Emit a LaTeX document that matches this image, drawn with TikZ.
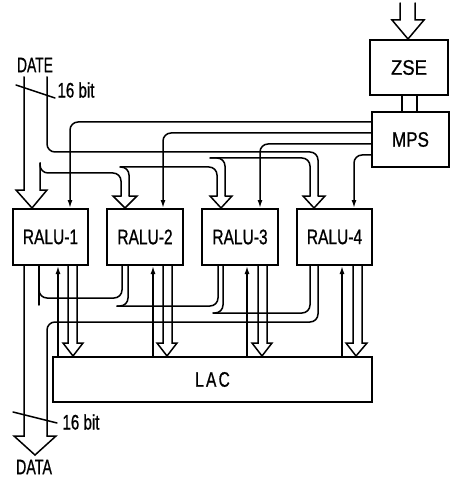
\documentclass[tikz,border=0pt]{standalone}
\usepackage{graphicx}
\usepackage{fontspec}
\setmainfont[FakeBold=1]{Liberation Sans}
\usetikzlibrary{arrows.meta}
\newcommand\hsq[2]{\scalebox{#1}[1]{#2}}
\tikzset{
  box/.style={draw, line width=2pt, inner sep=0pt, font=\fontsize{21}{21}\selectfont},
  lbl/.style={inner sep=0pt, font=\fontsize{21}{21}\selectfont},
  wire/.style={line width=1.5pt, line cap=round},
  rc/.style={rounded corners=8pt},
  tip/.style={-{Latex[length=8pt,width=5pt]}},
}
\begin{document}
\begin{tikzpicture}[x=1pt,y=-1pt]
\useasboundingbox (0,0) rectangle (453,478);
% boxes
\node[box, minimum width=78pt, minimum height=55pt] (zse) at (409,67.5) {\hsq{0.88}{ZSE}};
\node[box, minimum width=77pt, minimum height=55pt] (mps) at (410.5,139.5) {\hsq{0.81}{MPS}};
\node[box, minimum width=75pt, minimum height=56pt] (r1) at (50.5,237) {\hsq{0.74}{RALU-1}};
\node[box, minimum width=76pt, minimum height=56pt] (r2) at (145,237) {\hsq{0.74}{RALU-2}};
\node[box, minimum width=76pt, minimum height=56pt] (r3) at (240,237) {\hsq{0.74}{RALU-3}};
\node[box, minimum width=75pt, minimum height=56pt] (r4) at (334.5,237) {\hsq{0.74}{RALU-4}};
\node[box, minimum width=319pt, minimum height=45pt] (lac) at (212.5,379.5) {\hsq{0.74}{L\kern3pt A\kern3pt C}};
% labels
\node[lbl] (date) at (35,65) {\hsq{0.66}{DATE}};
\node[lbl] (bit1) at (76,90) {\hsq{0.72}{16 bit}};
\node[lbl] (bit2) at (81,422) {\hsq{0.72}{16 bit}};
\node[lbl] (data) at (34,467) {\hsq{0.68}{DATA}};
% ZSE input and ZSE-MPS link
\draw[wire] (400,3) -- (400,20) -- (392,20) -- (408,0 |- zse.north) -- (424,20) -- (415,20) -- (415,3);
\draw[wire] (402,0 |- zse.south) -- (402,0 |- mps.north);
\draw[wire] (417,0 |- zse.south) -- (417,0 |- mps.north);
% control lines MPS -> RALU
\draw[wire,rc,tip] (mps.west |- 0,122) -- (70,122) -- (70,0 |- r1.north);
\draw[wire,rc,tip] (mps.west |- 0,133) -- (163,133) -- (163,0 |- r2.north);
\draw[wire,rc,tip] (mps.west |- 0,144) -- (260,144) -- (260,0 |- r3.north);
\draw[wire,rc,tip] (mps.west |- 0,155) -- (354,155) -- (354,0 |- r4.north);
% DATE input bus
\draw[wire] (24,77) -- (24,190) -- (16,190) -- (32,0 |- r1.north) -- (47,190) -- (40,190) -- (40,163);
\draw[wire,rc] (40,163) -- (40,173) -- (121,173) -- (121,196);
\draw[wire] (121,196) -- (113,196) -- (125,0 |- r2.north) -- (137,196) -- (129,196);
\draw[wire,rc] (129,196) -- (129,167) -- (120,167);
\draw[wire,rc] (120,167) -- (217,167) -- (217,196);
\draw[wire] (217,196) -- (210,196) -- (221,0 |- r3.north) -- (232,196) -- (225,196);
\draw[wire,rc] (225,196) -- (225,158) -- (210,158);
\draw[wire,rc] (210,158) -- (310,158) -- (310,196);
\draw[wire] (310,196) -- (303,196) -- (314,0 |- r4.north) -- (325,196) -- (318,196);
\draw[wire,rc] (47,77) -- (47,152) -- (318,152) -- (318,196);
\draw[wire] (16,85) -- (55,98);
% DATA output bus
\draw[wire] (24,0 |- r1.south) -- (24,436) -- (14,436) -- (35,455) -- (56,436) -- (47,436);
\draw[wire,rc] (318,0 |- r4.south) -- (318,322) -- (47,322) -- (47,436);
\draw[wire] (39,0 |- r1.south) -- (39,305);
\draw[wire,rc] (39,289) -- (39,298) -- (122,298) -- (122,0 |- r2.south);
\draw[wire,rc] (117,306) -- (128,306) -- (128,0 |- r2.south);
\draw[wire,rc] (117,306) -- (218,306) -- (218,0 |- r3.south);
\draw[wire,rc] (213,313) -- (223,313) -- (223,0 |- r3.south);
\draw[wire,rc] (213,313) -- (310,313) -- (310,0 |- r4.south);
\draw[wire] (13,412) -- (57,423);
% LAC -> RALU thin lines
\draw[wire,tip] (58,0 |- lac.north) -- (58,0 |- r1.south);
\draw[wire,tip] (153,0 |- lac.north) -- (153,0 |- r2.south);
\draw[wire,tip] (247,0 |- lac.north) -- (247,0 |- r3.south);
\draw[wire,tip] (342,0 |- lac.north) -- (342,0 |- r4.south);
% RALU -> LAC wide arrows
\draw[wire] (68,0 |- r1.south) -- (68,343) -- (63,343) -- (73,0 |- lac.north) -- (83,343) -- (77,343) -- (77,0 |- r1.south);
\draw[wire] (163,0 |- r2.south) -- (163,343) -- (157,343) -- (167,0 |- lac.north) -- (177,343) -- (172,343) -- (172,0 |- r2.south);
\draw[wire] (258,0 |- r3.south) -- (258,343) -- (252,343) -- (262,0 |- lac.north) -- (272,343) -- (267,343) -- (267,0 |- r3.south);
\draw[wire] (353,0 |- r4.south) -- (353,343) -- (346,343) -- (356,0 |- lac.north) -- (367,343) -- (362,343) -- (362,0 |- r4.south);
\end{tikzpicture}
\end{document}
